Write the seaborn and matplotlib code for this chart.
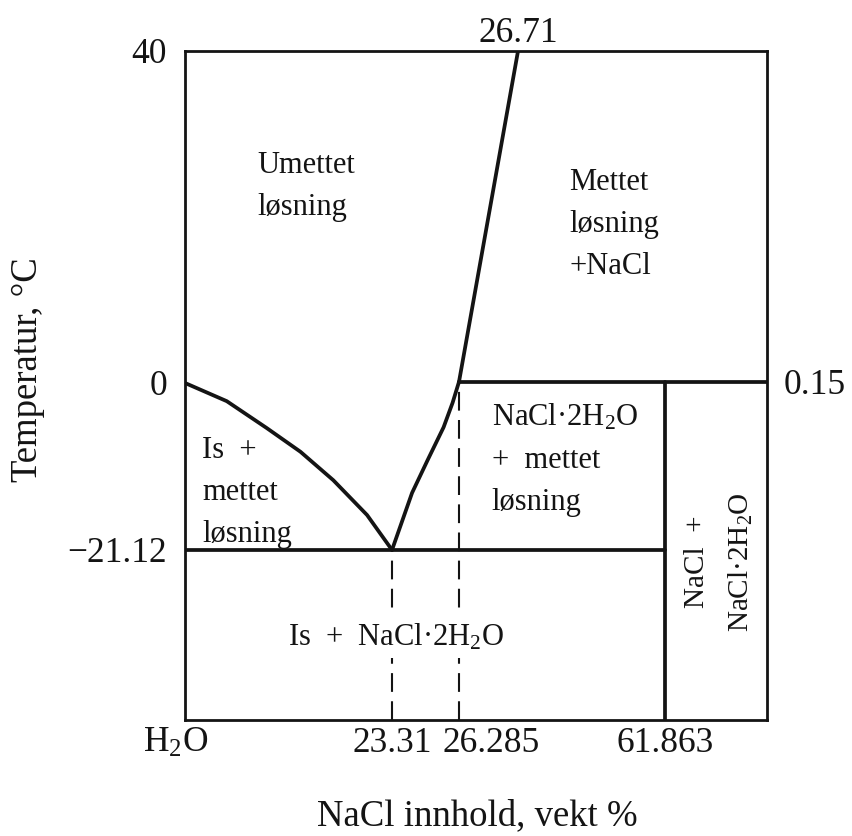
import numpy as np
import pandas as pd
import matplotlib.pyplot as plt
import seaborn as sns
from matplotlib.transforms import ScaledTranslation

# phase boundaries of the NaCl - H2O system (wt % NaCl, deg C)
ice_x = [0, 4.7, 9.2, 13.0, 16.7, 20.5, 23.31]
ice_T = [0, -2.3, -5.7, -8.7, -12.3, -16.7, -21.12]
hyd_x = [23.31, 24.2, 24.9, 25.6, 26.0, 26.285]
hyd_T = [-21.12, -13.9, -9.7, -5.6, -2.5, 0.15]
salt_x = [26.285, 26.71]
salt_T = [0.15, 40]

eutectic_x, eutectic_T = 23.31, -21.12
peritectic_x, peritectic_T = 26.285, 0.15
dihydrate_x = 61.863
T_min, T_max = -40, 40
x_max = 100

x_ticks = [0, eutectic_x, peritectic_x, dihydrate_x]
x_ticklabels = ["H$_2$O", "23.31", "26.285", "61.863"]
y_ticks = [T_max, 0, eutectic_T]
y_ticklabels = ["40", "0", "\u221221.12"]

# the diagram is schematic: piecewise linear axes
x_breaks = [0, eutectic_x, peritectic_x, salt_x[1], dihydrate_x, x_max]
x_frac = np.array([0, 207, 274, 333, 480, 582]) / 582
y_breaks = [T_min, eutectic_T, 0, T_max]
y_frac = np.array([0, 170, 337, 669]) / 669


def fx(v):
    return np.interp(v, x_breaks, x_frac)


def fx_inv(v):
    return np.interp(v, x_frac, x_breaks)


def fy(v):
    return np.interp(v, y_breaks, y_frac)


def fy_inv(v):
    return np.interp(v, y_frac, y_breaks)


def segments(parts):
    rows = []
    for name, xs, ts in parts:
        for x, t in zip(xs, ts):
            rows.append({"seg": name, "x": x, "T": t})
    return pd.DataFrame(rows)


solid = segments([
    ("ice", ice_x, ice_T),
    ("hydrate", hyd_x, hyd_T),
    ("salt", salt_x, salt_T),
    ("eutectic", [0, dihydrate_x], [eutectic_T, eutectic_T]),
    ("peritectic", [peritectic_x, x_max], [peritectic_T, peritectic_T]),
    ("dihydrate", [dihydrate_x, dihydrate_x], [T_min, peritectic_T]),
])
dashed = segments([
    ("d1", [eutectic_x, eutectic_x], [T_min, eutectic_T]),
    ("d2", [peritectic_x, peritectic_x], [T_min, peritectic_T]),
])

sns.set_style("white")
plt.rcParams['font.family'] = ['Liberation Serif', 'DejaVu Serif']
plt.rcParams['mathtext.fontset'] = 'custom'
plt.rcParams['mathtext.rm'] = 'Liberation Serif'
plt.rcParams['mathtext.it'] = 'Liberation Serif:italic'
plt.rcParams['mathtext.default'] = 'regular'

ink = '#141414'
fig, ax = plt.subplots(figsize=(8.53, 8.36), dpi=100)
fig.subplots_adjust(left=0.2169, right=0.8992, bottom=0.1388, top=0.939)

sns.lineplot(data=solid, x="x", y="T", units="seg", estimator=None, sort=False,
             color=ink, lw=2.7, ax=ax, legend=False, solid_joinstyle='round')
sns.lineplot(data=dashed, x="x", y="T", units="seg", estimator=None, sort=False,
             color=ink, lw=1.5, ax=ax, legend=False, linestyle=(0, (9, 4.5)))

ax.set_xscale('function', functions=(fx, fx_inv))
ax.set_yscale('function', functions=(fy, fy_inv))
ax.set_xlim(0, x_max)
ax.set_ylim(T_min, T_max)
ax.set_xticks(x_ticks, x_ticklabels)
ax.set_yticks(y_ticks, y_ticklabels)
ax.tick_params(axis='x', length=0, pad=5, labelsize=25.5, colors=ink)
ax.tick_params(axis='y', length=0, pad=13, labelsize=25.5, colors=ink)
for s in ax.spines.values():
    s.set_linewidth(2)
    s.set_color(ink)

ax.set_xlabel("NaCl innhold, vekt %", fontsize=26.5, color=ink)
ax.set_ylabel("Temperatur, °C", fontsize=26.5, color=ink)
ax.xaxis.set_label_coords(0.502, -0.118)
ax.yaxis.set_label_coords(-0.24, 0.523)

# nudge the crowded bottom labels the way the original sets them
xt = ax.xaxis.get_major_ticks()
xt[0].label1.set_transform(xt[0].label1.get_transform() + ScaledTranslation(-0.09, 0, fig.dpi_scale_trans))
xt[2].label1.set_transform(xt[2].label1.get_transform() + ScaledTranslation(0.32, 0, fig.dpi_scale_trans))

top = ax.twiny()
top.set_xscale('function', functions=(fx, fx_inv))
top.set_xlim(0, x_max)
top.set_xticks([salt_x[1]], ["26.71"])
top.tick_params(axis='x', length=0, pad=1, labelsize=25.5, colors=ink)

right = ax.twinx()
right.set_yscale('function', functions=(fy, fy_inv))
right.set_ylim(T_min, T_max)
right.set_yticks([peritectic_T], ["0.15"])
right.tick_params(axis='y', length=0, pad=12, labelsize=25.5, colors=ink)
for a in (top, right):
    for s in a.spines.values():
        s.set_visible(False)

lab = dict(fontsize=22, color=ink, transform=ax.transAxes, linespacing=1.6)
ax.text(0.125, 0.798, "Umettet\nløsning", ha='left', va='center', **lab)
ax.text(0.660, 0.741, "Mettet\nløsning\n+NaCl", ha='left', va='center', **lab)
ax.text(0.029, 0.340, "Is  +\nmettet\nløsning", ha='left', va='center', **lab)
ax.text(0.527, 0.389, "NaCl·2H$_2$O\n+  mettet\nløsning", ha='left', va='center', **lab)
ax.text(0.3625, 0.124, "Is  +  NaCl·2H$_2$O", ha='center', va='center',
        bbox=dict(fc='white', ec='none', pad=4), **lab)
ax.text(0.918, 0.236, "NaCl  +\nNaCl·2H$_2$O", ha='center', va='center', rotation=90,
        multialignment='center', fontsize=21, color=ink, transform=ax.transAxes,
        linespacing=1.75)

fig.savefig("out.png", dpi=100)
